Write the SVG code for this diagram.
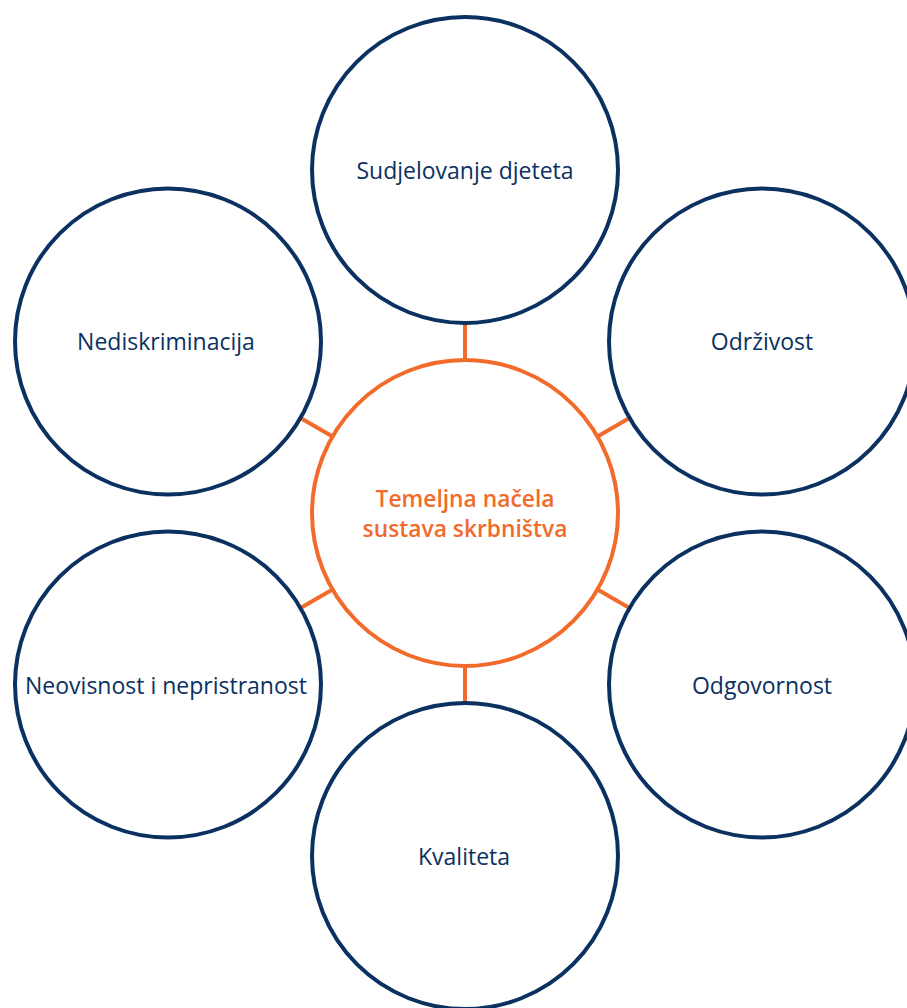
<svg xmlns="http://www.w3.org/2000/svg" width="907" height="1008" viewBox="0 0 907 1008">
<style>
.node{fill:#fff;stroke:#0b3161;stroke-width:4}
.hub{fill:#fff;stroke:#f26b2b;stroke-width:4}
.conn{stroke:#f26b2b;stroke-width:4;fill:none}
.lbl{font-family:"Open Sans","Noto Sans","Liberation Sans",sans-serif;font-size:23px;fill:#0b3161;text-anchor:middle}
.hlbl{font-family:"Open Sans","Noto Sans","Liberation Sans",sans-serif;font-size:22.8px;font-weight:600;fill:#f26b2b;text-anchor:middle}
</style>
<rect width="907" height="1008" fill="#fff"/>
<g id="connectors">
<line class="conn" x1="465" y1="360" x2="465" y2="323"/>
<line class="conn" x1="465" y1="666" x2="465" y2="703"/>
<line class="conn" x1="332.5" y1="436.5" x2="300.5" y2="418"/>
<line class="conn" x1="597.5" y1="436.5" x2="629.5" y2="418"/>
<line class="conn" x1="332.5" y1="589.5" x2="300.5" y2="608"/>
<line class="conn" x1="597.5" y1="589.5" x2="629.5" y2="608"/>
</g>
<g id="hub">
<circle class="hub" cx="465" cy="513" r="153"/>
<text class="hlbl" x="465" y="507">Temeljna načela</text>
<text class="hlbl" x="465" y="537">sustava skrbništva</text>
</g>
<g id="n-sudjelovanje">
<circle class="node" cx="465" cy="170" r="153"/>
<text class="lbl" x="465" y="179">Sudjelovanje djeteta</text>
</g>
<g id="n-odrzivost">
<circle class="node" cx="762" cy="341.5" r="153"/>
<text class="lbl" x="762" y="350">Održivost</text>
</g>
<g id="n-odgovornost">
<circle class="node" cx="762" cy="684.5" r="153"/>
<text class="lbl" x="762" y="694">Odgovornost</text>
</g>
<g id="n-kvaliteta">
<circle class="node" cx="465" cy="856" r="153"/>
<text class="lbl" x="464" y="865">Kvaliteta</text>
</g>
<g id="n-neovisnost">
<circle class="node" cx="168" cy="684.5" r="153"/>
<text class="lbl" x="166" y="694">Neovisnost i nepristranost</text>
</g>
<g id="n-nediskriminacija">
<circle class="node" cx="168" cy="341.5" r="153"/>
<text class="lbl" x="166" y="350">Nediskriminacija</text>
</g>
</svg>
